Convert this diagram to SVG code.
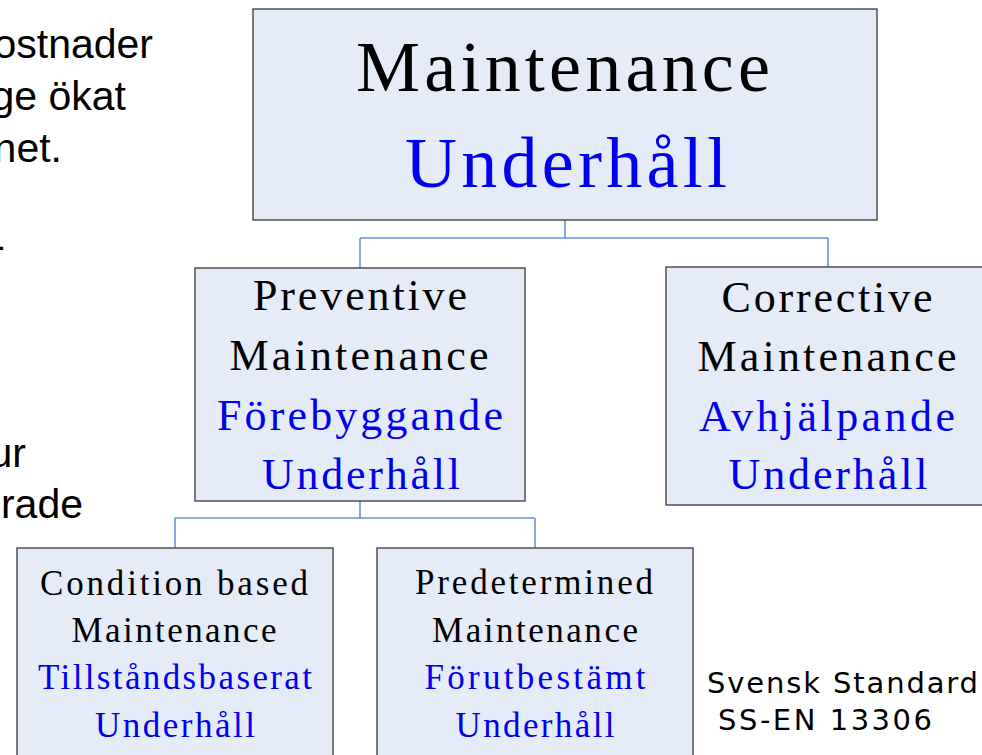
<svg xmlns="http://www.w3.org/2000/svg" width="982" height="755" viewBox="0 0 982 755">
<style>
.box{fill:#e6ecf7;stroke:#454545;stroke-width:1.4}
.lnk{fill:none;stroke:#6a93cf;stroke-width:1.6}
.s{font-family:"Liberation Serif","Times New Roman",serif;text-anchor:middle}
.k{fill:#000}
.b{fill:#0000ee}
.side{font-family:"Liberation Sans",Arial,sans-serif;font-size:41px;fill:#000;text-anchor:end}
.std{font-family:"DejaVu Sans",Verdana,sans-serif;font-size:29px;fill:#000}
</style>
<rect width="982" height="755" fill="#ffffff"/>
<g id="side-text">
<text class="side" x="153" y="58">ostnader</text>
<text class="side" x="126" y="110">ge ökat</text>
<text class="side" x="62" y="162">net.</text>
<text class="side" x="5" y="259">-</text>
<text class="side" x="26" y="467">ur</text>
<text class="side" x="83" y="518">rade</text>
</g>
<g id="connectors">
<path class="lnk" d="M565 220 V238 M360 238 H828 M360 238 V268 M828 238 V267"/>
<path class="lnk" d="M360 501 V518 M175 518 H535 M175 518 V548 M535 518 V548"/>
</g>
<g id="node-maintenance">
<rect class="box" x="253" y="9" width="624" height="211"/>
<text class="s k" x="563" y="91" font-size="72" textLength="414" lengthAdjust="spacing">Maintenance</text>
<text class="s b" x="566" y="187" font-size="72" textLength="322" lengthAdjust="spacing">Underhåll</text>
</g>
<g id="node-preventive">
<rect class="box" x="195" y="268" width="330" height="233"/>
<text class="s k" x="360" y="310" font-size="44" textLength="214" lengthAdjust="spacing">Preventive</text>
<text class="s k" x="359" y="370" font-size="44" textLength="259" lengthAdjust="spacing">Maintenance</text>
<text class="s b" x="360" y="430" font-size="44" textLength="286" lengthAdjust="spacing">Förebyggande</text>
<text class="s b" x="361" y="489" font-size="44" textLength="198" lengthAdjust="spacing">Underhåll</text>
</g>
<g id="node-corrective">
<rect class="box" x="666" y="267" width="325" height="238"/>
<text class="s k" x="827" y="312" font-size="44" textLength="211" lengthAdjust="spacing">Corrective</text>
<text class="s k" x="827" y="371" font-size="44" textLength="259" lengthAdjust="spacing">Maintenance</text>
<text class="s b" x="827" y="431" font-size="44" textLength="256" lengthAdjust="spacing">Avhjälpande</text>
<text class="s b" x="828" y="489" font-size="44" textLength="199" lengthAdjust="spacing">Underhåll</text>
</g>
<g id="node-condition">
<rect class="box" x="17" y="548" width="316" height="220"/>
<text class="s k" x="174" y="595" font-size="35" textLength="268" lengthAdjust="spacing">Condition based</text>
<text class="s k" x="174" y="642" font-size="35" textLength="205" lengthAdjust="spacing">Maintenance</text>
<text class="s b" x="175" y="689" font-size="35" textLength="274" lengthAdjust="spacing">Tillståndsbaserat</text>
<text class="s b" x="175" y="737" font-size="35" textLength="160" lengthAdjust="spacing">Underhåll</text>
</g>
<g id="node-predetermined">
<rect class="box" x="377" y="548" width="316" height="220"/>
<text class="s k" x="534" y="594" font-size="35" textLength="238" lengthAdjust="spacing">Predetermined</text>
<text class="s k" x="535" y="642" font-size="35" textLength="206" lengthAdjust="spacing">Maintenance</text>
<text class="s b" x="535" y="689" font-size="35" textLength="221" lengthAdjust="spacing">Förutbestämt</text>
<text class="s b" x="535" y="737" font-size="35" textLength="159" lengthAdjust="spacing">Underhåll</text>
</g>
<g id="standard-note">
<text class="std" x="707" y="693" textLength="271" lengthAdjust="spacing">Svensk Standard</text>
<text class="std" x="718" y="730" textLength="214" lengthAdjust="spacing">SS-EN 13306</text>
</g>
</svg>
